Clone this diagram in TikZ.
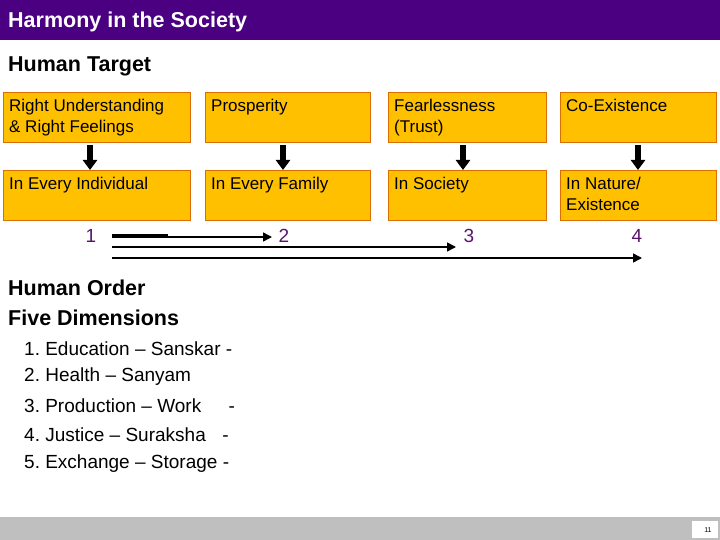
\documentclass[tikz,border=0pt]{standalone}
\usepackage{fontspec}
\setmainfont{Liberation Sans}
\usetikzlibrary{arrows.meta}
\definecolor{purp}{RGB}{75,0,130}
\definecolor{org}{RGB}{255,192,0}
\definecolor{orgb}{RGB}{220,110,0}
\definecolor{num}{RGB}{90,20,110}
\frenchspacing
\begin{document}
\begin{tikzpicture}[x=1pt,y=-1pt,
  txt/.style={anchor=north west,align=left,font=\fontsize{17}{21}\selectfont,inner sep=0pt},
  down/.style={line width=6pt,-{Triangle[width=14pt,length=10pt]}},
  harr/.style={line width=1.6pt,-{Triangle[width=9pt,length=9pt]}},
  numb/.style={text=num,font=\fontsize{19}{20}\selectfont},
  bold/.style={anchor=west,font=\bfseries\fontsize{21.5}{23}\selectfont,inner sep=0pt}]
\useasboundingbox (0,0) rectangle (720,540);
\fill[white] (0,0) rectangle (720,540);
\fill[purp] (0,0) rectangle (720,40);
\node[anchor=west,text=white,font=\bfseries\fontsize{21.5}{23}\selectfont,inner sep=0pt] (title) at (8,22) {Harmony in the Society};
\node[bold] (ht) at (8,66) {Human Target};
\foreach \n/\x/\w/\y/\t in {a/3/187/92/{Right Understanding\\\& Right Feelings},b/205/165/92/Prosperity,c/388/158/92/{Fearlessness\\(Trust)},d/560/156/92/Co-Existence,
  e/3/187/170/In Every Individual,f/205/165/170/In Every Family,g/388/158/170/In Society,h/560/156/170/{In Nature/\\Existence}}{
  \draw[draw=orgb,fill=org,line width=0.8pt] (\x,\y) rectangle ++(\w,50);
  \node[txt] (\n) at (\x+6,\y+7) {\t};
}
\coordinate (s1) at (90,145); \coordinate (t1) at (90,170);
\coordinate (s2) at (283,145); \coordinate (t2) at (283,170);
\coordinate (s3) at (463,145); \coordinate (t3) at (463,170);
\coordinate (s4) at (638,145); \coordinate (t4) at (638,170);
\foreach \i in {1,2,3,4}{\draw[down] (s\i) -- (t\i);}
\node[numb] (n1) at (91,236) {1};
\node[numb] (n2) at (284,236) {2};
\node[numb] (n3) at (469,236) {3};
\node[numb] (n4) at (637,236) {4};
\draw[line width=2pt] (112,234.5) -- (168,234.5);
\coordinate (a1) at (112,237); \coordinate (b1) at (272,237);
\coordinate (a2) at (112,247); \coordinate (b2) at (456,247);
\coordinate (a3) at (112,258); \coordinate (b3) at (642,258);
\draw[harr] (a1) -- (b1);
\draw[harr] (a2) -- (b2);
\draw[harr] (a3) -- (b3);
\node[bold] (ho) at (8,288) {Human Order};
\node[bold] (fd) at (8,318) {Five Dimensions};
\foreach \k/\y/\t in {l1/349/{1. Education -- Sanskar -},l2/377/{2. Health -- Sanyam},l3/406/{3. Production -- Work \hspace{22pt}-},l4/435/{4. Justice -- Suraksha \hspace{6pt} -},l5/464/{5. Exchange -- Storage -}}{
  \node[anchor=west,inner sep=0pt,font=\fontsize{19}{21}\selectfont] (\k) at (24,\y) {\t};
}
\fill[black!25] (0,517) rectangle (720,540);
\fill[white] (692,521) rectangle (718,538);
\node[font=\fontsize{7}{8}\selectfont,inner sep=0pt] (pg) at (708,530) {11};
\end{tikzpicture}
\end{document}
